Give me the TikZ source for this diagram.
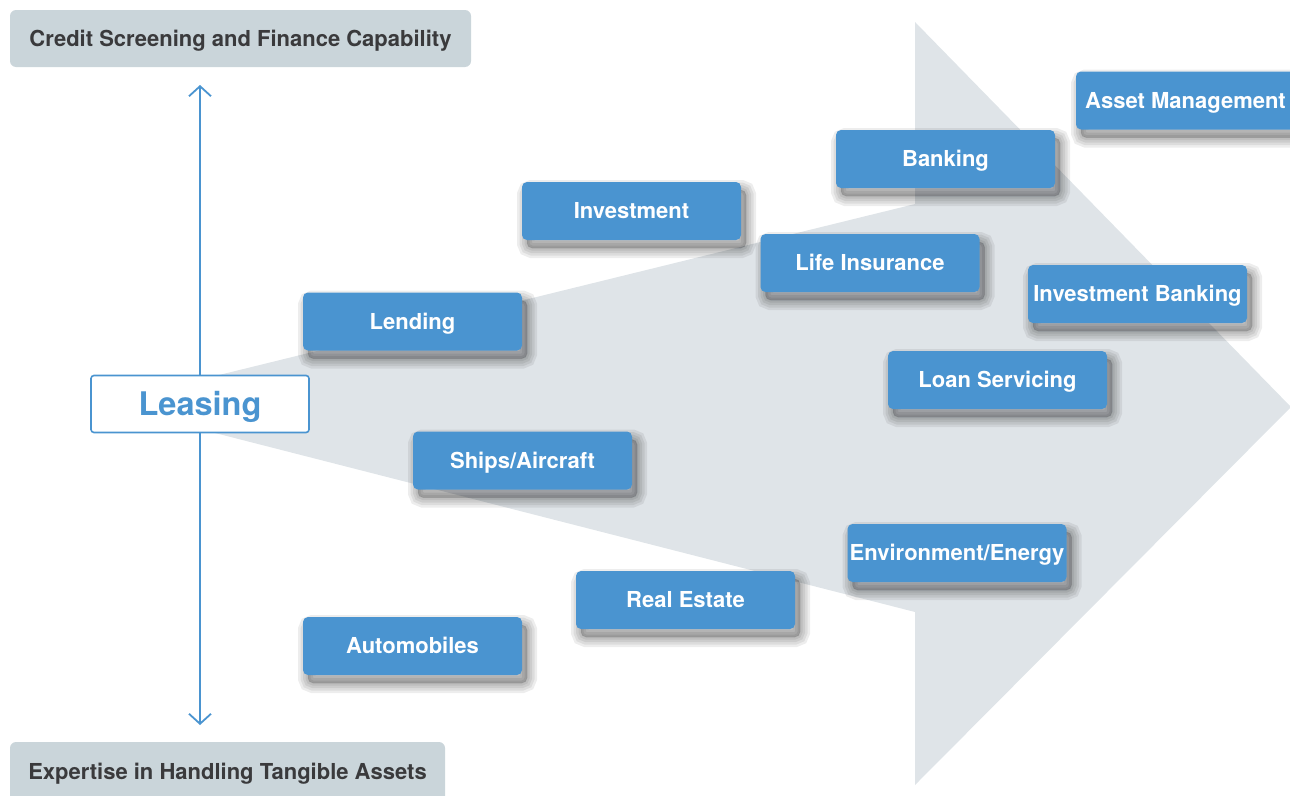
\documentclass[tikz,border=0pt]{standalone}
\usepackage{fontspec}
\setmainfont{TeX Gyre Heros}
\usetikzlibrary{positioning, arrows.meta}
\definecolor{boxblue}{HTML}{4A94D0}
\definecolor{labgray}{HTML}{CAD5DA}
\definecolor{arrgray}{HTML}{DFE4E8}
\definecolor{txtgray}{HTML}{3A3A3C}
\tikzset{softshadow/.style={preaction={draw=black, draw opacity=0.07, line width=#1, transform canvas={shift={(5pt,-8pt)}}}}}
\tikzset{shadowcore/.style={preaction={fill=black, fill opacity=0.18, transform canvas={shift={(5pt,-8pt)}}}}}
\tikzset{catbox/.style={rounded corners=5pt, fill=boxblue, text=white, font=\bfseries\fontsize{22}{26}\selectfont, text height=15.8pt, text depth=0pt, minimum width=219pt, minimum height=58pt, inner sep=2pt, shadowcore, softshadow=20pt, softshadow=15pt, softshadow=10pt, softshadow=5pt, softshadow=1pt}}
\tikzset{basebox/.style={rounded corners=6pt, fill=labgray, text=txtgray, font=\bfseries\fontsize{22}{26}\selectfont, text height=15.8pt, text depth=0pt, minimum height=57pt}}
\tikzset{leasebox/.style={rounded corners=3pt, draw=boxblue, line width=1.6pt, fill=white, text=boxblue, font=\bfseries\fontsize{32.5}{38}\selectfont, text height=23.4pt, text depth=0pt, minimum width=218pt, minimum height=57pt}}
\tikzset{varr/.style={draw=boxblue, line width=1.8pt, -{Straight Barb[length=10pt, width=22pt, line width=1.8pt]}}}

\begin{document}
\begin{tikzpicture}[x=1pt, y=-1pt]
    \useasboundingbox (0,0) rectangle (1290,795);
    % growth arrow behind everything
    \fill[arrgray] (215,376) -- (915,204) -- (915,22) -- (1291,407)
        -- (915,785) -- (915,612) -- (215,433) -- cycle;

    \node[basebox, minimum width=461pt] (credit) at (240.5,38.5)
        {Credit Screening and Finance Capability};
    \node[basebox, minimum width=435pt, minimum height=60pt] (tangible) at (227.5,772)
        {Expertise in Handling Tangible Assets};

    \coordinate (uptip) at (200,85);
    \coordinate (downtip) at (200,725);
    \draw[varr] (200,404) -- (uptip);
    \draw[varr] (200,404) -- (downtip);
    \node[leasebox] (leasing) at (200,404) {Leasing};

    % businesses
    \node[catbox] (lending) at (412.5,321.5) {Lending};
    \node[catbox] (invest) at (631.5,211) {Investment};
    \node[catbox] (ships) at (522.5,460.5) {Ships/Aircraft};
    \node[catbox] (autos) at (412.5,646) {Automobiles};
    \node[catbox] (estate) at (685.5,600) {Real Estate};
    \node[catbox] (life) at (870,263) {Life Insurance};
    \node[catbox] (banking) at (945.5,159) {Banking};
    \node[catbox] (loans) at (997.5,380) {Loan Servicing};
    \node[catbox] (energy) at (957,553) {Environment/Energy};
    \node[catbox] (ibank) at (1137.5,294) {Investment Banking};
    \node[catbox] (assets) at (1185.5,100.5) {Asset Management};
\end{tikzpicture}
\end{document}
